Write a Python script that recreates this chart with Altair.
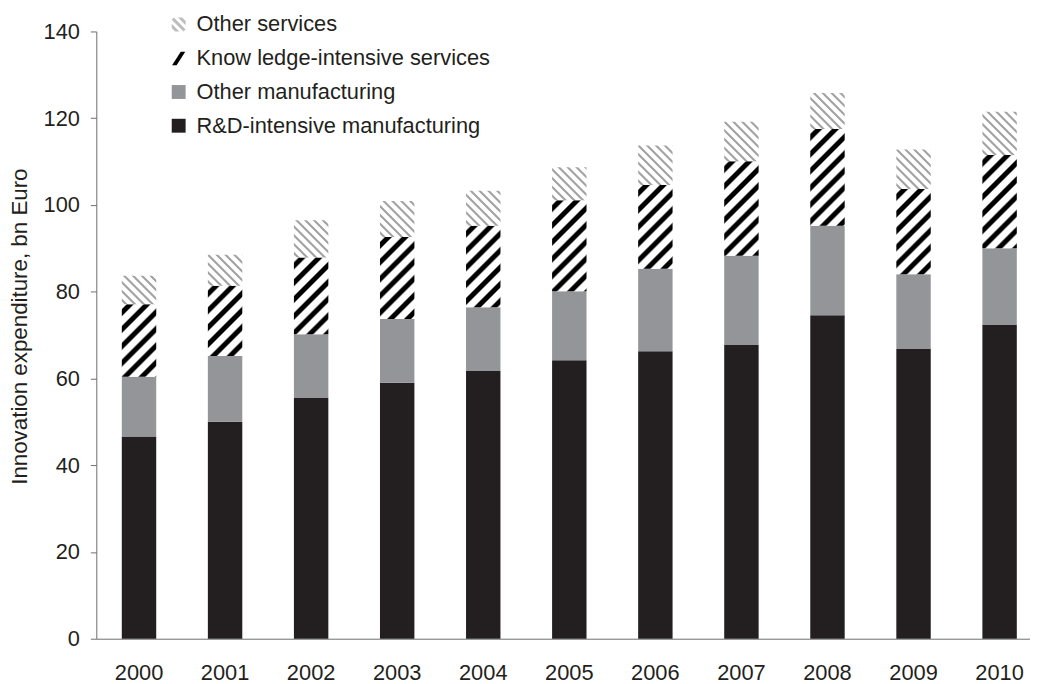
import altair as alt
import pandas as pd

# ---------------- data ----------------
years = ["2000", "2001", "2002", "2003", "2004", "2005", "2006", "2007", "2008", "2009", "2010"]
rd_manufacturing = [46.6, 50.0, 55.5, 59.0, 61.7, 64.2, 66.3, 67.7, 74.6, 66.8, 72.3]
other_manufacturing = [13.8, 15.2, 14.7, 14.7, 14.7, 15.9, 19.0, 20.6, 20.6, 17.2, 17.7]
knowledge_services = [16.7, 16.2, 17.7, 18.9, 18.8, 21.0, 19.3, 21.8, 22.3, 19.7, 21.5]
other_services = [6.6, 7.1, 8.6, 8.3, 8.1, 7.6, 9.1, 9.1, 8.3, 9.1, 10.0]

OS = "Other services"
KIS = "Know ledge-intensive services"
OM = "Other manufacturing"
RD = "R&D-intensive manufacturing"
legend_order = [OS, KIS, OM, RD]
y_ticks = [0, 20, 40, 60, 80, 100, 120, 140]

rows = []
for i, yr in enumerate(years):
    for name, vals, rank in [(RD, rd_manufacturing, 0), (OM, other_manufacturing, 1),
                             (KIS, knowledge_services, 2), (OS, other_services, 3)]:
        rows.append({"year": yr, "series": name, "value": vals[i], "rank": rank})
df = pd.DataFrame(rows)

# ---------------- layout / style ----------------
FONT = "Liberation Sans"
TXT = "#231f20"
AX = "#6d6e71"
PLOT_W, PLOT_H = 941, 612
PAD = {"left": 89, "top": 21, "right": 0, "bottom": 44}
PI, PO, ALIGN = 0.6, 0.2248, 0.659
STEP = PLOT_W / (len(years) - PI + 2 * PO)
BW = STEP * (1 - PI)
K = PLOT_H / 140.0


def stripes(n, ink, core, ramp):
    stops = []
    p = 1.0 / n
    for k in range(n):
        b = k * p
        a0 = 0.5 - core / 2 - ramp
        a1 = 0.5 - core / 2
        a2 = 0.5 + core / 2
        a3 = 0.5 + core / 2 + ramp
        stops += [(b, "#ffffff"), (b + a0 * p, "#ffffff"), (b + a1 * p, ink),
                  (b + a2 * p, ink), (b + a3 * p, "#ffffff")]
    stops.append((1.0, "#ffffff"))
    return "[" + ",".join("{offset:%.5f,color:'%s'}" % (o, c) for o, c in stops) + "]"


N_STRIPES = 16
KIS_PERIOD, OS_PERIOD = 12.0, 6.3
KIS_D = N_STRIPES * KIS_PERIOD
OS_D = N_STRIPES * OS_PERIOD
KIS_STOPS = stripes(N_STRIPES, "#000000", 0.30, 0.12)
OS_STOPS = stripes(N_STRIPES, "#a3a3a3", 0.20, 0.14)

gs_expr = (
    f"datum.rank === 2 ? sqrt(2)*{KIS_D}/({BW}*{BW} + datum.hpx*datum.hpx) "
    f": sqrt(2)*{OS_D}/({BW}*{BW} + datum.hpx*datum.hpx)"
)
grad_expr = (
    "datum.rank === 0 ? '#231f20' : datum.rank === 1 ? '#939598' : "
    f"datum.rank === 2 ? {{gradient:'linear', x1:0, y1:0, x2:{BW}*datum.gs, y2:datum.hpx*datum.gs, stops:{KIS_STOPS}}} : "
    f"{{gradient:'linear', x1:0, y1:1, x2:{BW}*datum.gs, y2:1 - datum.hpx*datum.gs, stops:{OS_STOPS}}}"
)

base = (
    alt.Chart(df)
    .transform_stack(stack="value", groupby=["year"], as_=["y0", "y1"],
                     sort=[alt.SortField("rank", order="ascending")])
    .transform_calculate(hpx=f"(datum.y1 - datum.y0) * {K}")
    .transform_calculate(gs=gs_expr)
    .transform_calculate(grad=grad_expr)
)

x_enc = alt.X(
    "year:O",
    scale=alt.Scale(paddingInner=PI, paddingOuter=PO, align=ALIGN),
    axis=alt.Axis(title=None, labelAngle=0, ticks=False, tickSize=0, labelPadding=24,
                  labelFontSize=22, labelColor=TXT, labelFont=FONT,
                  domainColor=AX, domainWidth=1),
)
y_enc = alt.Y(
    "y1:Q",
    stack=None,
    scale=alt.Scale(domain=[0, 140], nice=False, zero=True),
    axis=alt.Axis(values=y_ticks, title="Innovation expenditure, bn Euro", grid=False,
                  labelFontSize=22, labelColor=TXT, labelFont=FONT, labelPadding=11,
                  tickSize=6, tickColor=AX, domainColor=AX, domainWidth=1,
                  titleFont=FONT, titleFontSize=22.5, titleFontWeight="normal",
                  titleColor=TXT, titleX=-70, titleY=297, titleAngle=-90,
                  titleAlign="center", titleBaseline="alphabetic"),
)

bars = base.mark_bar(strokeWidth=0).encode(
    x=x_enc,
    y=y_enc,
    y2="y0:Q",
    fill=alt.Fill("grad:N", scale=None),
)

square = "M-1,-1H1V1H-1Z"
slash = "M-0.95,1L0.3,-0.95H0.95L-0.3,1Z"
hatch = ("M-1,-0.7L-0.7,-1L1,0.7L0.7,1Z"
         "M-0.1,-1L0.5,-1L1,-0.5L1,0.1Z"
         "M-1,-0.1L-1,0.5L-0.5,1L0.1,1Z")

legend = alt.Legend(title=None, orient="none", legendX=72, legendY=-18,
                    labelFontSize=22, labelFont=FONT, labelColor=TXT,
                    symbolSize=196, symbolStrokeWidth=0, rowPadding=12,
                    labelOffset=7, padding=0, symbolOpacity=1, labelLimit=0)

legend_layer = base.mark_point(filled=True, opacity=0).encode(
    x=alt.X("year:O"),
    y=alt.Y("y1:Q", stack=None),
    color=alt.Color("series:N",
                    scale=alt.Scale(domain=legend_order,
                                    range=["#bdbdbd", "#000000", "#939598", "#231f20"]),
                    legend=legend),
    shape=alt.Shape("series:N",
                    scale=alt.Scale(domain=legend_order,
                                    range=[hatch, slash, square, square]),
                    legend=legend),
)

chart = (
    alt.layer(bars, legend_layer)
    .properties(width=PLOT_W, height=PLOT_H,
                autosize=alt.AutoSizeParams(type="none"),
                padding=PAD, background="white")
    .configure_view(stroke=None)
    .configure_axis(grid=False)
)

chart.save("out.html", embed_options={"renderer": "svg", "actions": False})
